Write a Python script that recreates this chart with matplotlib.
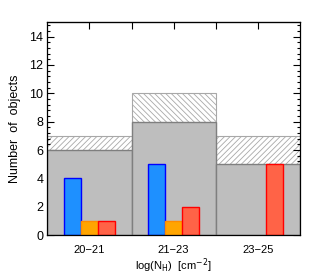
import numpy as np
import matplotlib
matplotlib.use('Agg')
import matplotlib.pyplot as plt
from matplotlib.ticker import MultipleLocator

plt.rcParams['font.family'] = ['Liberation Sans', 'DejaVu Sans']
plt.rcParams['hatch.linewidth'] = 0.6

# data
bins = ['20\u221221', '21\u221223', '23\u221225']
total = [7, 10, 7]          # hatched (all objects)
detected = [6, 8, 5]        # gray
blue = [4, 5, 0]
orange = [1, 1, 0]
red = [1, 2, 5]
hatches = ['//////', '\\\\\\\\\\\\', '//////']

centers = np.array([1, 3, 5])
bw = 2.0
sw = 0.4


def nz(v):
    # hide empty bars (no edge line at zero)
    v = np.array(v, dtype=float)
    return np.where(v > 0, v, np.nan)


fig = plt.figure(figsize=(3.16, 2.77), dpi=100)
ax = fig.add_axes([0.150, 0.151, 0.799, 0.768])

for i in range(3):
    ax.bar(centers[i], total[i], width=bw, facecolor='white', edgecolor='#a8a8a8',
           hatch=hatches[i], linewidth=0.8, zorder=1)
ax.bar(centers, detected, width=bw, facecolor='#bebebe', edgecolor='#7f7f7f',
       linewidth=1.0, zorder=2)
ax.bar(centers - sw, nz(blue), width=sw, facecolor='#1e90ff', edgecolor='#0000ff',
       linewidth=1.0, zorder=3)
ax.bar(centers, nz(orange), width=sw, facecolor='#ffa500', edgecolor='#ff8c00',
       linewidth=1.0, zorder=3)
ax.bar(centers + sw, nz(red), width=sw, facecolor='#ff6347', edgecolor='#ff0000',
       linewidth=1.0, zorder=3)

ax.set_xlim(0, 6)
ax.set_ylim(0, 15)
ax.set_xticks(centers)
ax.set_xticklabels(bins, fontsize=8)
ax.tick_params(axis='x', length=0, pad=7)
ax.yaxis.set_major_locator(MultipleLocator(2))
ax.yaxis.set_minor_locator(MultipleLocator(0.4))
ax.tick_params(axis='y', which='major', direction='in', length=5, width=0.8,
               left=True, right=True, labelsize=9, pad=3)
ax.tick_params(axis='y', which='minor', direction='in', length=2.5, width=0.8,
               left=True, right=True)

# top axis ticks
top = ax.secondary_xaxis('top')
top.set_xticks([1, 2, 3, 4, 5])
top.set_xticklabels([])
top.tick_params(direction='in', length=5, width=0.8)

for s in ax.spines.values():
    s.set_linewidth(0.9)
    s.set_zorder(5)

ax.set_ylabel('Number  of  objects', fontsize=9, labelpad=6)
ax.set_xlabel(r'log(N$_{\mathrm{H}}$)  [cm$^{-2}$]', fontsize=8, labelpad=1)

fig.savefig('out.png', dpi=100)
